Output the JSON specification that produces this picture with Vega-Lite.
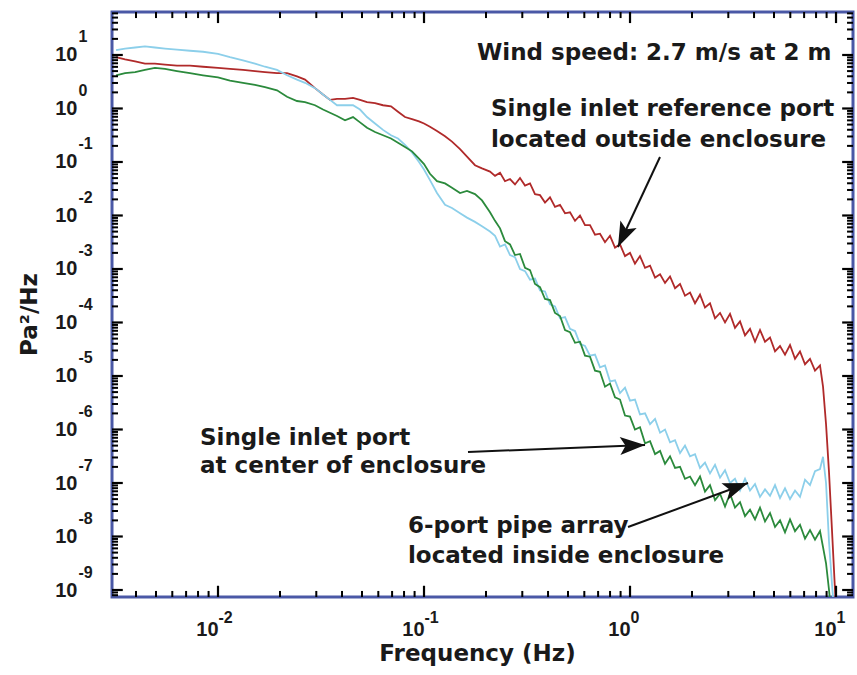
{
  "$schema": "https://vega.github.io/schema/vega-lite/v6.json",
  "width": 741,
  "height": 585,
  "autosize": "none",
  "padding": {"left": 112, "top": 12, "right": 4, "bottom": 78},
  "background": "white",
  "config": {
    "view": {"stroke": "#4a58a6", "strokeWidth": 3},
    "axis": {
      "domain": false,
      "grid": false,
      "ticks": false,
      "zindex": 2,
      "labelFont": "Liberation Sans Narrow, Liberation Sans, sans-serif",
      "labelFontWeight": "bold",
      "labelColor": "#1a1a1a",
      "labelOverlap": false,
      "labelFlush": false,
      "labelBound": false,
      "titleFont": "DejaVu Sans",
      "titleFontWeight": "bold",
      "titleColor": "#1a1a1a",
      "titleFontSize": 23
    }
  },
  "datasets": {
    "x_major": [{"tick": 0.01}, {"tick": 0.1}, {"tick": 1}, {"tick": 10}],
    "x_minor": [{"tick": 0.004}, {"tick": 0.005}, {"tick": 0.006}, {"tick": 0.007}, {"tick": 0.008}, {"tick": 0.009},
      {"tick": 0.02}, {"tick": 0.03}, {"tick": 0.04}, {"tick": 0.05}, {"tick": 0.06}, {"tick": 0.07}, {"tick": 0.08}, {"tick": 0.09},
      {"tick": 0.2}, {"tick": 0.3}, {"tick": 0.4}, {"tick": 0.5}, {"tick": 0.6}, {"tick": 0.7}, {"tick": 0.8}, {"tick": 0.9},
      {"tick": 2}, {"tick": 3}, {"tick": 4}, {"tick": 5}, {"tick": 6}, {"tick": 7}, {"tick": 8}, {"tick": 9}],
    "y_major": [{"tick": 1e-9}, {"tick": 1e-8}, {"tick": 1e-7}, {"tick": 1e-6}, {"tick": 1e-5}, {"tick": 1e-4}, {"tick": 0.001}, {"tick": 0.01}, {"tick": 0.1}, {"tick": 1}, {"tick": 10}],
    "y_minor": [{"tick": 8e-10}, {"tick": 9e-10},
      {"tick": 2e-9}, {"tick": 3e-9}, {"tick": 4e-9}, {"tick": 5e-9}, {"tick": 6e-9}, {"tick": 7e-9}, {"tick": 8e-9}, {"tick": 9e-9},
      {"tick": 2e-8}, {"tick": 3e-8}, {"tick": 4e-8}, {"tick": 5e-8}, {"tick": 6e-8}, {"tick": 7e-8}, {"tick": 8e-8}, {"tick": 9e-8},
      {"tick": 2e-7}, {"tick": 3e-7}, {"tick": 4e-7}, {"tick": 5e-7}, {"tick": 6e-7}, {"tick": 7e-7}, {"tick": 8e-7}, {"tick": 9e-7},
      {"tick": 2e-6}, {"tick": 3e-6}, {"tick": 4e-6}, {"tick": 5e-6}, {"tick": 6e-6}, {"tick": 7e-6}, {"tick": 8e-6}, {"tick": 9e-6},
      {"tick": 2e-5}, {"tick": 3e-5}, {"tick": 4e-5}, {"tick": 5e-5}, {"tick": 6e-5}, {"tick": 7e-5}, {"tick": 8e-5}, {"tick": 9e-5},
      {"tick": 2e-4}, {"tick": 3e-4}, {"tick": 4e-4}, {"tick": 5e-4}, {"tick": 6e-4}, {"tick": 7e-4}, {"tick": 8e-4}, {"tick": 9e-4},
      {"tick": 0.002}, {"tick": 0.003}, {"tick": 0.004}, {"tick": 0.005}, {"tick": 0.006}, {"tick": 0.007}, {"tick": 0.008}, {"tick": 0.009},
      {"tick": 0.02}, {"tick": 0.03}, {"tick": 0.04}, {"tick": 0.05}, {"tick": 0.06}, {"tick": 0.07}, {"tick": 0.08}, {"tick": 0.09},
      {"tick": 0.2}, {"tick": 0.3}, {"tick": 0.4}, {"tick": 0.5}, {"tick": 0.6}, {"tick": 0.7}, {"tick": 0.8}, {"tick": 0.9},
      {"tick": 2}, {"tick": 3}, {"tick": 4}, {"tick": 5}, {"tick": 6}, {"tick": 7}, {"tick": 8}, {"tick": 9},
      {"tick": 20}, {"tick": 30}, {"tick": 40}, {"tick": 50}, {"tick": 60}],
    "spectra": [
      {"freq_hz": 0.00320, "outside_ref": 9.12, "center_port": 12.3, "pipe_array": 4.17},
      {"freq_hz": 0.00354, "outside_ref": 8.32, "center_port": 13.2, "pipe_array": 4.57},
      {"freq_hz": 0.00396, "outside_ref": 7.59, "center_port": 13.8, "pipe_array": 4.79},
      {"freq_hz": 0.00442, "outside_ref": 6.92, "center_port": 14.5, "pipe_array": 5.25},
      {"freq_hz": 0.00494, "outside_ref": 6.92, "center_port": 13.8, "pipe_array": 5.75},
      {"freq_hz": 0.00553, "outside_ref": 6.61, "center_port": 13.2, "pipe_array": 5.50},
      {"freq_hz": 0.00632, "outside_ref": 6.31, "center_port": 12.6, "pipe_array": 5.01},
      {"freq_hz": 0.00731, "outside_ref": 6.31, "center_port": 12.0, "pipe_array": 4.57},
      {"freq_hz": 0.00846, "outside_ref": 6.03, "center_port": 11.5, "pipe_array": 4.17},
      {"freq_hz": 0.0100, "outside_ref": 5.75, "center_port": 10.5, "pipe_array": 3.80},
      {"freq_hz": 0.01143, "outside_ref": 5.50, "center_port": 9.12, "pipe_array": 3.31},
      {"freq_hz": 0.01322, "outside_ref": 5.25, "center_port": 7.94, "pipe_array": 3.02},
      {"freq_hz": 0.01512, "outside_ref": 5.01, "center_port": 6.92, "pipe_array": 2.75},
      {"freq_hz": 0.01691, "outside_ref": 4.79, "center_port": 6.03, "pipe_array": 2.51},
      {"freq_hz": 0.01934, "outside_ref": 4.57, "center_port": 5.25, "pipe_array": 2.19},
      {"freq_hz": 0.02163, "outside_ref": 4.57, "center_port": 4.17, "pipe_array": 1.66},
      {"freq_hz": 0.02418, "outside_ref": 3.98, "center_port": 3.47, "pipe_array": 1.38},
      {"freq_hz": 0.02645, "outside_ref": 3.47, "center_port": 3.02, "pipe_array": 1.32},
      {"freq_hz": 0.02957, "outside_ref": 2.40, "center_port": 2.40, "pipe_array": 1.15},
      {"freq_hz": 0.03234, "outside_ref": 1.82, "center_port": 1.82, "pipe_array": 0.955},
      {"freq_hz": 0.03497, "outside_ref": 1.45, "center_port": 1.45, "pipe_array": 0.832},
      {"freq_hz": 0.03782, "outside_ref": 1.51, "center_port": 1.15, "pipe_array": 0.724},
      {"freq_hz": 0.04136, "outside_ref": 1.51, "center_port": 1.15, "pipe_array": 0.603},
      {"freq_hz": 0.04523, "outside_ref": 1.58, "center_port": 1.15, "pipe_array": 0.692},
      {"freq_hz": 0.04891, "outside_ref": 1.45, "center_port": 0.955, "pipe_array": 0.550},
      {"freq_hz": 0.05289, "outside_ref": 1.32, "center_port": 0.692, "pipe_array": 0.437},
      {"freq_hz": 0.05784, "outside_ref": 1.26, "center_port": 0.525, "pipe_array": 0.363},
      {"freq_hz": 0.06324, "outside_ref": 1.15, "center_port": 0.398, "pipe_array": 0.316},
      {"freq_hz": 0.06916, "outside_ref": 1.10, "center_port": 0.316, "pipe_array": 0.275},
      {"freq_hz": 0.07477, "outside_ref": 0.871, "center_port": 0.275, "pipe_array": 0.229},
      {"freq_hz": 0.08087, "outside_ref": 0.692, "center_port": 0.209, "pipe_array": 0.191},
      {"freq_hz": 0.08745, "outside_ref": 0.631, "center_port": 0.151, "pipe_array": 0.158},
      {"freq_hz": 0.09456, "outside_ref": 0.575, "center_port": 0.100, "pipe_array": 0.115},
      {"freq_hz": 0.1000, "outside_ref": 0.525, "center_port": 0.0724, "pipe_array": 0.0912},
      {"freq_hz": 0.1069, "outside_ref": 0.457, "center_port": 0.0457, "pipe_array": 0.0603},
      {"freq_hz": 0.1156, "outside_ref": 0.380, "center_port": 0.0263, "pipe_array": 0.0437},
      {"freq_hz": 0.1265, "outside_ref": 0.302, "center_port": 0.0158, "pipe_array": 0.0398},
      {"freq_hz": 0.1367, "outside_ref": 0.240, "center_port": 0.0138, "pipe_array": 0.0331},
      {"freq_hz": 0.1496, "outside_ref": 0.174, "center_port": 0.0110, "pipe_array": 0.0263},
      {"freq_hz": 0.1617, "outside_ref": 0.126, "center_port": 0.00912, "pipe_array": 0.0288},
      {"freq_hz": 0.1768, "outside_ref": 0.0871, "center_port": 0.00759, "pipe_array": 0.0251},
      {"freq_hz": 0.1912, "outside_ref": 0.0759, "center_port": 0.00631, "pipe_array": 0.0191},
      {"freq_hz": 0.2091, "outside_ref": 0.0661, "center_port": 0.00501, "pipe_array": 0.0115},
      {"freq_hz": 0.2212, "outside_ref": 0.0550, "center_port": 0.00417, "pipe_array": 0.00794},
      {"freq_hz": 0.2339, "outside_ref": 6.31e-2, "center_port": 2.63e-3, "pipe_array": 5.75e-3},
      {"freq_hz": 0.2472, "outside_ref": 4.37e-2, "center_port": 2.88e-3, "pipe_array": 3.31e-3},
      {"freq_hz": 0.2615, "outside_ref": 4.79e-2, "center_port": 1.82e-3, "pipe_array": 2.88e-3},
      {"freq_hz": 0.2765, "outside_ref": 3.80e-2, "center_port": 1.66e-3, "pipe_array": 1.82e-3},
      {"freq_hz": 0.2924, "outside_ref": 5.01e-2, "center_port": 1.00e-3, "pipe_array": 1.91e-3},
      {"freq_hz": 0.3093, "outside_ref": 3.63e-2, "center_port": 9.12e-4, "pipe_array": 1.05e-3},
      {"freq_hz": 0.3270, "outside_ref": 3.98e-2, "center_port": 6.31e-4, "pipe_array": 9.55e-4},
      {"freq_hz": 0.3458, "outside_ref": 2.51e-2, "center_port": 6.61e-4, "pipe_array": 5.25e-4},
      {"freq_hz": 0.3657, "outside_ref": 2.40e-2, "center_port": 3.98e-4, "pipe_array": 4.57e-4},
      {"freq_hz": 0.3867, "outside_ref": 1.74e-2, "center_port": 3.80e-4, "pipe_array": 2.75e-4},
      {"freq_hz": 0.4089, "outside_ref": 2.19e-2, "center_port": 2.19e-4, "pipe_array": 2.63e-4},
      {"freq_hz": 0.4324, "outside_ref": 1.45e-2, "center_port": 2.00e-4, "pipe_array": 1.51e-4},
      {"freq_hz": 0.4573, "outside_ref": 1.58e-2, "center_port": 1.20e-4, "pipe_array": 1.32e-4},
      {"freq_hz": 0.4836, "outside_ref": 1.10e-2, "center_port": 1.26e-4, "pipe_array": 7.24e-5},
      {"freq_hz": 0.5114, "outside_ref": 1.15e-2, "center_port": 7.59e-5, "pipe_array": 6.61e-5},
      {"freq_hz": 0.5408, "outside_ref": 7.94e-3, "center_port": 6.92e-5, "pipe_array": 4.17e-5},
      {"freq_hz": 0.5718, "outside_ref": 1.00e-2, "center_port": 3.98e-5, "pipe_array": 4.37e-5},
      {"freq_hz": 0.6047, "outside_ref": 6.61e-3, "center_port": 3.63e-5, "pipe_array": 2.40e-5},
      {"freq_hz": 0.6394, "outside_ref": 6.61e-3, "center_port": 2.40e-5, "pipe_array": 2.29e-5},
      {"freq_hz": 0.6762, "outside_ref": 4.37e-3, "center_port": 2.51e-5, "pipe_array": 1.26e-5},
      {"freq_hz": 0.7150, "outside_ref": 4.57e-3, "center_port": 1.45e-5, "pipe_array": 1.20e-5},
      {"freq_hz": 0.7561, "outside_ref": 3.16e-3, "center_port": 1.58e-5, "pipe_array": 6.31e-6},
      {"freq_hz": 0.7996, "outside_ref": 4.17e-3, "center_port": 7.94e-6, "pipe_array": 7.24e-6},
      {"freq_hz": 0.8455, "outside_ref": 2.51e-3, "center_port": 8.32e-6, "pipe_array": 3.98e-6},
      {"freq_hz": 0.8941, "outside_ref": 2.88e-3, "center_port": 4.79e-6, "pipe_array": 3.63e-6},
      {"freq_hz": 0.9456, "outside_ref": 1.74e-3, "center_port": 6.03e-6, "pipe_array": 1.82e-6},
      {"freq_hz": 1.000, "outside_ref": 2.00e-3, "center_port": 3.47e-6, "pipe_array": 1.74e-6},
      {"freq_hz": 1.057, "outside_ref": 1.26e-3, "center_port": 3.63e-6, "pipe_array": 1.00e-6},
      {"freq_hz": 1.118, "outside_ref": 1.74e-3, "center_port": 1.91e-6, "pipe_array": 1.10e-6},
      {"freq_hz": 1.183, "outside_ref": 1.05e-3, "center_port": 2.00e-6, "pipe_array": 5.50e-7},
      {"freq_hz": 1.251, "outside_ref": 1.15e-3, "center_port": 1.26e-6, "pipe_array": 6.03e-7},
      {"freq_hz": 1.323, "outside_ref": 6.92e-4, "center_port": 1.58e-6, "pipe_array": 3.47e-7},
      {"freq_hz": 1.399, "outside_ref": 7.94e-4, "center_port": 8.71e-7, "pipe_array": 3.98e-7},
      {"freq_hz": 1.479, "outside_ref": 5.50e-4, "center_port": 1.00e-6, "pipe_array": 2.29e-7},
      {"freq_hz": 1.564, "outside_ref": 7.24e-4, "center_port": 5.75e-7, "pipe_array": 3.16e-7},
      {"freq_hz": 1.654, "outside_ref": 4.37e-4, "center_port": 6.31e-7, "pipe_array": 1.91e-7},
      {"freq_hz": 1.749, "outside_ref": 5.25e-4, "center_port": 3.63e-7, "pipe_array": 2.00e-7},
      {"freq_hz": 1.849, "outside_ref": 3.16e-4, "center_port": 5.01e-7, "pipe_array": 1.20e-7},
      {"freq_hz": 1.956, "outside_ref": 3.63e-4, "center_port": 3.16e-7, "pipe_array": 1.32e-7},
      {"freq_hz": 2.068, "outside_ref": 2.29e-4, "center_port": 3.47e-7, "pipe_array": 9.12e-8},
      {"freq_hz": 2.187, "outside_ref": 3.31e-4, "center_port": 1.91e-7, "pipe_array": 1.32e-7},
      {"freq_hz": 2.312, "outside_ref": 1.91e-4, "center_port": 2.40e-7, "pipe_array": 6.92e-8},
      {"freq_hz": 2.445, "outside_ref": 2.29e-4, "center_port": 1.51e-7, "pipe_array": 9.12e-8},
      {"freq_hz": 2.586, "outside_ref": 1.20e-4, "center_port": 2.19e-7, "pipe_array": 4.79e-8},
      {"freq_hz": 2.735, "outside_ref": 1.51e-4, "center_port": 1.26e-7, "pipe_array": 6.31e-8},
      {"freq_hz": 2.892, "outside_ref": 1.00e-4, "center_port": 1.74e-7, "pipe_array": 3.63e-8},
      {"freq_hz": 3.058, "outside_ref": 1.45e-4, "center_port": 1.00e-7, "pipe_array": 6.31e-8},
      {"freq_hz": 3.233, "outside_ref": 7.94e-5, "center_port": 1.20e-7, "pipe_array": 3.47e-8},
      {"freq_hz": 3.420, "outside_ref": 1.05e-4, "center_port": 7.24e-8, "pipe_array": 4.37e-8},
      {"freq_hz": 3.616, "outside_ref": 5.75e-5, "center_port": 1.20e-7, "pipe_array": 2.40e-8},
      {"freq_hz": 3.824, "outside_ref": 7.59e-5, "center_port": 7.24e-8, "pipe_array": 3.16e-8},
      {"freq_hz": 4.044, "outside_ref": 4.37e-5, "center_port": 9.55e-8, "pipe_array": 2.09e-8},
      {"freq_hz": 4.276, "outside_ref": 7.24e-5, "center_port": 5.50e-8, "pipe_array": 3.47e-8},
      {"freq_hz": 4.522, "outside_ref": 4.37e-5, "center_port": 7.59e-8, "pipe_array": 1.91e-8},
      {"freq_hz": 4.782, "outside_ref": 5.25e-5, "center_port": 5.75e-8, "pipe_array": 2.75e-8},
      {"freq_hz": 5.057, "outside_ref": 2.88e-5, "center_port": 9.12e-8, "pipe_array": 1.51e-8},
      {"freq_hz": 5.348, "outside_ref": 3.63e-5, "center_port": 5.25e-8, "pipe_array": 2.00e-8},
      {"freq_hz": 5.654, "outside_ref": 2.51e-5, "center_port": 7.94e-8, "pipe_array": 1.20e-8},
      {"freq_hz": 5.980, "outside_ref": 3.80e-5, "center_port": 5.01e-8, "pipe_array": 2.09e-8},
      {"freq_hz": 6.324, "outside_ref": 2.09e-5, "center_port": 7.24e-8, "pipe_array": 1.26e-8},
      {"freq_hz": 6.686, "outside_ref": 2.88e-5, "center_port": 5.50e-8, "pipe_array": 1.66e-8},
      {"freq_hz": 7.071, "outside_ref": 1.66e-5, "center_port": 1.15e-7, "pipe_array": 9.12e-9},
      {"freq_hz": 7.477, "outside_ref": 2.09e-5, "center_port": 9.12e-8, "pipe_array": 1.32e-8},
      {"freq_hz": 7.907, "outside_ref": 1.26e-5, "center_port": 1.66e-7, "pipe_array": 8.71e-9},
      {"freq_hz": 8.362, "outside_ref": 1.58e-5, "center_port": 1.82e-7, "pipe_array": 1.26e-8},
      {"freq_hz": 8.648, "outside_ref": 6.31e-6, "center_port": 3.09e-7, "pipe_array": 6.31e-9},
      {"freq_hz": 8.944, "outside_ref": 1.26e-6, "center_port": 1.00e-7, "pipe_array": 3.16e-9},
      {"freq_hz": 9.247, "outside_ref": 1.58e-7, "center_port": 7.94e-9, "pipe_array": 1.0e-9},
      {"freq_hz": 9.564, "outside_ref": 1.26e-8, "center_port": 1.26e-9, "pipe_array": 2.51e-10},
      {"freq_hz": 9.888, "outside_ref": 1.0e-9, "center_port": 2.51e-10, "pipe_array": 1.0e-10},
      {"freq_hz": 10.23, "outside_ref": 1.0e-10, "center_port": 1.0e-10, "pipe_array": 1.0e-10}
    ]
  },
  "data": {"name": "spectra"},
  "resolve": {"axis": {"x": "independent", "y": "independent"}},
  "layer": [
    {
      "mark": {"type": "line", "color": "#b02a2a", "strokeWidth": 1.8, "clip": true},
      "encoding": {
        "x": {"field": "freq_hz", "type": "quantitative",
          "scale": {"type": "log", "domain": [0.003058, 12.09], "nice": false},
          "axis": {"orient": "bottom", "values": [0.01, 0.1, 1, 10],
            "labelExpr": "'10'", "labelAlign": "right", "labelBaseline": "top", "labelPadding": 22, "labelDx": -1, "labelFontSize": 20,
            "title": "Frequency (Hz)", "titleX": 365, "titleY": 63, "titleAlign": "center", "titleBaseline": "alphabetic", "titleAnchor": null}},
        "y": {"field": "outside_ref", "type": "quantitative",
          "scale": {"type": "log", "domain": [7.4e-10, 63.6], "nice": false},
          "axis": {"orient": "left", "values": [1e-9, 1e-8, 1e-7, 1e-6, 1e-5, 1e-4, 0.001, 0.01, 0.1, 1, 10],
            "labelExpr": "'10'", "labelAlign": "right", "labelBaseline": "middle", "labelPadding": 35, "labelFontSize": 20,
            "title": "Pa²/Hz", "titleX": -83, "titleY": 302, "titleAngle": -90, "titleAlign": "center", "titleBaseline": "middle", "titleAnchor": null}}
      }
    },
    {
      "mark": {"type": "line", "color": "#8ccfea", "strokeWidth": 1.8, "clip": true},
      "encoding": {
        "x": {"field": "freq_hz", "type": "quantitative",
          "scale": {"type": "log", "domain": [0.003058, 12.09], "nice": false},
          "axis": {"orient": "bottom", "values": [0.01, 0.1, 1, 10],
            "labelExpr": "'' + round(log(datum.value) / LN10)", "labelAlign": "left", "labelBaseline": "top", "labelPadding": 12, "labelFontSize": 16, "title": null}},
        "y": {"field": "center_port", "type": "quantitative",
          "scale": {"type": "log", "domain": [7.4e-10, 63.6], "nice": false},
          "axis": {"orient": "left", "values": [1e-9, 1e-8, 1e-7, 1e-6, 1e-5, 1e-4, 0.001, 0.01, 0.1, 1, 10],
            "labelExpr": "'' + round(log(datum.value) / LN10)", "labelAlign": "left", "labelBaseline": "middle", "labelPadding": 34, "labelOffset": -18, "labelFontSize": 16, "title": null}}
      }
    },
    {
      "mark": {"type": "line", "color": "#2b8a3c", "strokeWidth": 1.8, "clip": true},
      "encoding": {
        "x": {"field": "freq_hz", "type": "quantitative", "scale": {"type": "log", "domain": [0.003058, 12.09], "nice": false}, "axis": null},
        "y": {"field": "pipe_array", "type": "quantitative", "scale": {"type": "log", "domain": [7.4e-10, 63.6], "nice": false}, "axis": null}
      }
    },
    {
      "data": {"name": "x_major"},
      "mark": {"type": "rule", "color": "#000000", "strokeWidth": 2.2},
      "encoding": {
        "x": {"field": "tick", "type": "quantitative", "scale": {"type": "log", "domain": [0.003058, 12.09], "nice": false}, "axis": null},
        "y": {"datum": 7.4e-10, "type": "quantitative", "scale": {"type": "log", "domain": [7.4e-10, 63.6], "nice": false}, "axis": null},
        "y2": {"datum": 1.2e-9}
      }
    },
    {
      "data": {"name": "x_major"},
      "mark": {"type": "rule", "color": "#000000", "strokeWidth": 2.2},
      "encoding": {
        "x": {"field": "tick", "type": "quantitative", "scale": {"type": "log", "domain": [0.003058, 12.09], "nice": false}, "axis": null},
        "y": {"datum": 63.6, "type": "quantitative", "scale": {"type": "log", "domain": [7.4e-10, 63.6], "nice": false}, "axis": null},
        "y2": {"datum": 39.5}
      }
    },
    {
      "data": {"name": "x_minor"},
      "mark": {"type": "rule", "color": "#000000", "strokeWidth": 2},
      "encoding": {
        "x": {"field": "tick", "type": "quantitative", "scale": {"type": "log", "domain": [0.003058, 12.09], "nice": false}, "axis": null},
        "y": {"datum": 7.4e-10, "type": "quantitative", "scale": {"type": "log", "domain": [7.4e-10, 63.6], "nice": false}, "axis": null},
        "y2": {"datum": 9.6e-10}
      }
    },
    {
      "data": {"name": "x_minor"},
      "mark": {"type": "rule", "color": "#000000", "strokeWidth": 2},
      "encoding": {
        "x": {"field": "tick", "type": "quantitative", "scale": {"type": "log", "domain": [0.003058, 12.09], "nice": false}, "axis": null},
        "y": {"datum": 63.6, "type": "quantitative", "scale": {"type": "log", "domain": [7.4e-10, 63.6], "nice": false}, "axis": null},
        "y2": {"datum": 49.0}
      }
    },
    {
      "data": {"name": "y_major"},
      "mark": {"type": "rule", "color": "#000000", "strokeWidth": 2.2},
      "encoding": {
        "y": {"field": "tick", "type": "quantitative", "scale": {"type": "log", "domain": [7.4e-10, 63.6], "nice": false}, "axis": null},
        "x": {"datum": 0.003058, "type": "quantitative", "scale": {"type": "log", "domain": [0.003058, 12.09], "nice": false}, "axis": null},
        "x2": {"datum": 0.00345}
      }
    },
    {
      "data": {"name": "y_major"},
      "mark": {"type": "rule", "color": "#000000", "strokeWidth": 2.2},
      "encoding": {
        "y": {"field": "tick", "type": "quantitative", "scale": {"type": "log", "domain": [7.4e-10, 63.6], "nice": false}, "axis": null},
        "x": {"datum": 12.09, "type": "quantitative", "scale": {"type": "log", "domain": [0.003058, 12.09], "nice": false}, "axis": null},
        "x2": {"datum": 10.71}
      }
    },
    {
      "data": {"name": "y_minor"},
      "mark": {"type": "rule", "color": "#000000", "strokeWidth": 2},
      "encoding": {
        "y": {"field": "tick", "type": "quantitative", "scale": {"type": "log", "domain": [7.4e-10, 63.6], "nice": false}, "axis": null},
        "x": {"datum": 0.003058, "type": "quantitative", "scale": {"type": "log", "domain": [0.003058, 12.09], "nice": false}, "axis": null},
        "x2": {"datum": 0.00327}
      }
    },
    {
      "data": {"name": "y_minor"},
      "mark": {"type": "rule", "color": "#000000", "strokeWidth": 2},
      "encoding": {
        "y": {"field": "tick", "type": "quantitative", "scale": {"type": "log", "domain": [7.4e-10, 63.6], "nice": false}, "axis": null},
        "x": {"datum": 12.09, "type": "quantitative", "scale": {"type": "log", "domain": [0.003058, 12.09], "nice": false}, "axis": null},
        "x2": {"datum": 11.31}
      }
    },
    {
      "data": {"values": [
        {"label": "Wind speed: 2.7 m/s at 2 m", "at_freq": 0.1808, "at_level": 8.06},
        {"label": "Single inlet reference port", "at_freq": 0.2114, "at_level": 0.724},
        {"label": "located outside enclosure", "at_freq": 0.2114, "at_level": 0.1907},
        {"label": "Single inlet port", "at_freq": 0.00818, "at_level": 5.13e-7},
        {"label": "at center of enclosure", "at_freq": 0.00818, "at_level": 1.54e-7},
        {"label": "6-port pipe array", "at_freq": 0.0836, "at_level": 1.16e-8},
        {"label": "located inside enclosure", "at_freq": 0.0836, "at_level": 3.20e-9}
      ]},
      "mark": {"type": "text", "font": "DejaVu Sans", "fontWeight": "bold", "fontSize": 23, "color": "#1a1a1a", "align": "left", "baseline": "alphabetic"},
      "encoding": {
        "x": {"field": "at_freq", "type": "quantitative", "scale": {"type": "log", "domain": [0.003058, 12.09], "nice": false}, "axis": null},
        "y": {"field": "at_level", "type": "quantitative", "scale": {"type": "log", "domain": [7.4e-10, 63.6], "nice": false}, "axis": null},
        "text": {"field": "label"}
      }
    },
    {
      "data": {"values": [
        {"from_freq": 1.398, "from_level": 0.124, "to_freq": 0.874, "to_level": 2.58e-3},
        {"from_freq": 0.1635, "from_level": 3.80e-7, "to_freq": 1.183, "to_level": 5.13e-7},
        {"from_freq": 0.978, "from_level": 1.505e-8, "to_freq": 3.740, "to_level": 1.0e-7}
      ]},
      "mark": {"type": "rule", "color": "#111111", "strokeWidth": 2},
      "encoding": {
        "x": {"field": "from_freq", "type": "quantitative", "scale": {"type": "log", "domain": [0.003058, 12.09], "nice": false}, "axis": null},
        "y": {"field": "from_level", "type": "quantitative", "scale": {"type": "log", "domain": [7.4e-10, 63.6], "nice": false}, "axis": null},
        "x2": {"field": "to_freq"},
        "y2": {"field": "to_level"}
      }
    },
    {
      "data": {"values": [{"to_freq": 0.874, "to_level": 2.58e-3}]},
      "mark": {"type": "point", "shape": "M0,0 L0.36,1 L0,0.78 L-0.36,1 Z", "size": 2500, "filled": true, "color": "#111111", "opacity": 1, "angle": 205},
      "encoding": {
        "x": {"field": "to_freq", "type": "quantitative", "scale": {"type": "log", "domain": [0.003058, 12.09], "nice": false}, "axis": null},
        "y": {"field": "to_level", "type": "quantitative", "scale": {"type": "log", "domain": [7.4e-10, 63.6], "nice": false}, "axis": null}
      }
    },
    {
      "data": {"values": [{"to_freq": 1.183, "to_level": 5.13e-7}]},
      "mark": {"type": "point", "shape": "M0,0 L0.36,1 L0,0.78 L-0.36,1 Z", "size": 2500, "filled": true, "color": "#111111", "opacity": 1, "angle": 87.7},
      "encoding": {
        "x": {"field": "to_freq", "type": "quantitative", "scale": {"type": "log", "domain": [0.003058, 12.09], "nice": false}, "axis": null},
        "y": {"field": "to_level", "type": "quantitative", "scale": {"type": "log", "domain": [7.4e-10, 63.6], "nice": false}, "axis": null}
      }
    },
    {
      "data": {"values": [{"to_freq": 3.740, "to_level": 1.0e-7}]},
      "mark": {"type": "point", "shape": "M0,0 L0.36,1 L0,0.78 L-0.36,1 Z", "size": 2500, "filled": true, "color": "#111111", "opacity": 1, "angle": 69.9},
      "encoding": {
        "x": {"field": "to_freq", "type": "quantitative", "scale": {"type": "log", "domain": [0.003058, 12.09], "nice": false}, "axis": null},
        "y": {"field": "to_level", "type": "quantitative", "scale": {"type": "log", "domain": [7.4e-10, 63.6], "nice": false}, "axis": null}
      }
    }
  ]
}
